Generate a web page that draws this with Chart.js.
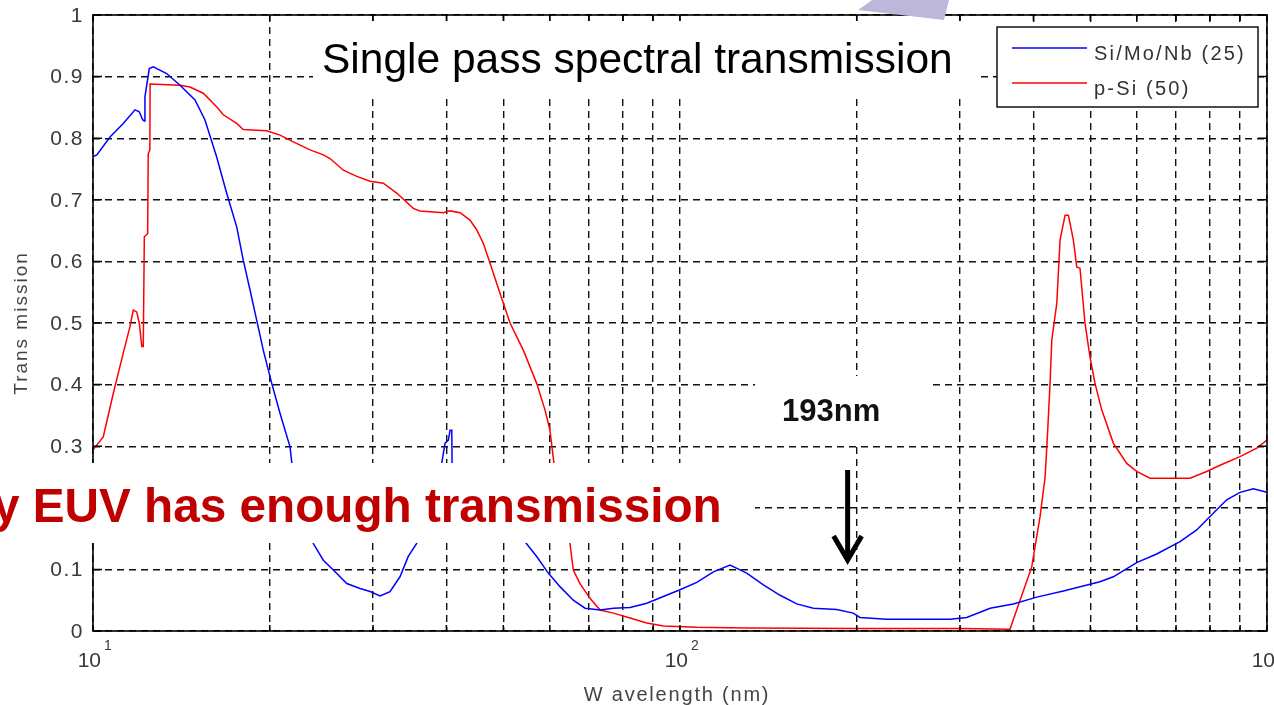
<!DOCTYPE html>
<html><head><meta charset="utf-8">
<script src="https://cdn.jsdelivr.net/npm/chart.js@4.4.0/dist/chart.umd.min.js"></script>
<style>html,body{margin:0;padding:0;background:#fff;}canvas{display:block;}</style>
</head><body>
<canvas id="c" width="1274" height="705"></canvas>
<script>
// ---- data ----
const seriesNames = ['Si/Mo/Nb (25)', 'p-Si (50)'];
const seriesColors = ['#0000ff', '#ff0000'];

const blueWavelength = [10.0,10.15,10.69,11.26,11.79,11.99,12.15,12.23,12.26,12.47,12.67,13.35,14.07,14.92,15.51,16.24,16.89,17.57,18.03,18.51,19.00,19.50,20.16,20.83,21.66,21.81,23.73,24.68,25.67,27.06,28.51,29.65,30.83,32.06,33.34,34.44,35.60,39.27,39.79,40.31,40.58,40.85,40.9,54.44,57.00,59.65,62.45,65.80,68.90,73.07,77.00,82.20,87.78,93.68,100.0,106.8,114.0,121.7,129.9,138.7,148.1,158.1,168.7,184.9,197.3,202.6,224.9,288.4,307.9,337.5,369.7,405.3,449.9,519.4,547.2,599.8,648.8,710.9,759.0,810.0,853.8,899.6,947.8,1000];
const blueTransmission = [0.770,0.773,0.802,0.824,0.846,0.843,0.830,0.828,0.867,0.913,0.916,0.905,0.886,0.862,0.830,0.770,0.711,0.656,0.602,0.554,0.505,0.456,0.402,0.353,0.299,0.273,0.142,0.115,0.099,0.077,0.069,0.064,0.057,0.064,0.088,0.121,0.142,0.272,0.305,0.310,0.326,0.326,0.272,0.145,0.121,0.094,0.072,0.050,0.037,0.034,0.037,0.038,0.045,0.056,0.067,0.079,0.096,0.107,0.094,0.075,0.058,0.044,0.037,0.035,0.029,0.022,0.019,0.019,0.022,0.037,0.044,0.055,0.065,0.080,0.088,0.111,0.125,0.145,0.164,0.191,0.213,0.225,0.231,0.225];

const redWavelength = [10.0,10.41,10.83,11.26,11.56,11.71,11.87,11.99,12.11,12.18,12.23,12.39,12.42,12.50,12.51,14.07,14.63,15.41,16.24,16.67,17.57,18.03,19.76,20.83,21.94,23.43,24.68,25.34,26.70,28.14,29.65,31.23,32.91,35.13,36.06,39.52,40.58,42.20,43.88,45.06,46.24,47.47,49.37,51.34,54.08,57.00,58.88,60.04,60.99,64.95,65.80,67.55,70.26,73.07,77.00,82.20,87.78,93.68,106.8,130,200,300,364.9,379.6,397.4,410.6,418.8,422.5,427.0,429.9,438.4,444.1,452.9,458.8,467.8,474.1,480.2,489.7,499.4,509.3,522.9,547.2,576.8,599.8,632.0,739.4,789.2,831.7,899.6,960.5,1000];
const redTransmission = [0.294,0.315,0.386,0.451,0.494,0.521,0.518,0.500,0.462,0.462,0.640,0.645,0.775,0.781,0.888,0.886,0.883,0.873,0.851,0.838,0.824,0.814,0.812,0.805,0.794,0.781,0.773,0.767,0.748,0.738,0.730,0.727,0.711,0.686,0.682,0.679,0.682,0.679,0.667,0.651,0.629,0.597,0.548,0.500,0.456,0.402,0.359,0.326,0.272,0.142,0.099,0.077,0.053,0.034,0.029,0.021,0.013,0.008,0.006,0.005,0.004,0.004,0.003,0.050,0.104,0.186,0.250,0.315,0.402,0.472,0.532,0.635,0.675,0.675,0.635,0.591,0.589,0.500,0.445,0.402,0.359,0.305,0.272,0.259,0.248,0.248,0.259,0.269,0.283,0.297,0.310];

const xTickValues = [10,20,30,40,50,60,70,80,90,100,200,300,400,500,600,700,800,900,1000];
const xLabelValues = [10,100,1000];
const xLabelExponents = ['1','2','3'];
const yTickValues = [0,0.1,0.2,0.3,0.4,0.5,0.6,0.7,0.8,0.9,1];
const yTickLabels = ['0','0.1','0.2','0.3','0.4','0.5','0.6','0.7','0.8','0.9','1'];
const xAxisTitle = 'W avelength (nm)';
const yAxisTitle = 'Trans mission';
const titleText = 'Single pass spectral transmission';
const redNote = 'y EUV has enough transmission';
const markerText = '193nm';
const markerWavelength = 193;

const toPoints = (xs, ys) => xs.map((x, i) => ({x: x, y: ys[i]}));

const FONT = '"Liberation Sans", Arial, sans-serif';

const overlay = {
  id: 'overlay',
  afterDraw(chart) {
    const ctx = chart.ctx, a = chart.chartArea, xs = chart.scales.x, ys = chart.scales.y;
    ctx.save();
    ctx.setLineDash([]);
    // axes box
    ctx.strokeStyle = '#000'; ctx.lineWidth = 1.6;
    ctx.strokeRect(a.left, a.top, a.right - a.left, a.bottom - a.top);
    // inner tick marks
    ctx.lineWidth = 1.5;
    ctx.beginPath();
    yTickValues.forEach(v => {
      const y = ys.getPixelForValue(v);
      ctx.moveTo(a.left, y); ctx.lineTo(a.left + 9, y);
      ctx.moveTo(a.right, y); ctx.lineTo(a.right - 9, y);
    });
    xTickValues.forEach(v => {
      const x = xs.getPixelForValue(v);
      ctx.moveTo(x, a.bottom); ctx.lineTo(x, a.bottom - 6);
      ctx.moveTo(x, a.top); ctx.lineTo(x, a.top + 6);
    });
    ctx.stroke();

    // y tick labels
    ctx.fillStyle = '#3a3a3a';
    ctx.font = '21px ' + FONT;
    ctx.textAlign = 'right'; ctx.textBaseline = 'middle';
    ctx.letterSpacing = '1.5px';
    yTickValues.forEach((v, i) => {
      ctx.fillText(yTickLabels[i], a.left - 9, ys.getPixelForValue(v) + 1);
    });
    ctx.letterSpacing = '0px';
    // x tick labels (10^n)
    ctx.textBaseline = 'alphabetic';
    xLabelValues.forEach((v, i) => {
      const x = xs.getPixelForValue(v);
      ctx.font = '21px ' + FONT; ctx.textAlign = 'right';
      ctx.fillText('10', x + 8, a.bottom + 36);
      ctx.font = '14px ' + FONT; ctx.textAlign = 'left';
      ctx.fillText(xLabelExponents[i], x + 11, a.bottom + 19);
    });
    // axis titles
    ctx.font = '20px ' + FONT; ctx.textAlign = 'center';
    ctx.letterSpacing = '1.8px';
    ctx.fillStyle = '#444';
    ctx.fillText(xAxisTitle, (a.left + a.right) / 2 - 3, 701);
    ctx.save();
    ctx.translate(27, (a.top + a.bottom) / 2);
    ctx.rotate(-Math.PI / 2);
    ctx.font = '19px ' + FONT; ctx.letterSpacing = '2px';
    ctx.fillText(yAxisTitle, 0, 0);
    ctx.restore();
    ctx.letterSpacing = '0px';

    // legend
    ctx.fillStyle = '#fff';
    ctx.fillRect(997, 27, 261, 80);
    ctx.strokeStyle = '#000'; ctx.lineWidth = 1.4;
    ctx.strokeRect(997, 27, 261, 80);
    chart.data.datasets.forEach((ds, i) => {
      const y = 48 + i * 35;
      ctx.strokeStyle = ds.borderColor; ctx.lineWidth = 1.5;
      ctx.beginPath(); ctx.moveTo(1012, y); ctx.lineTo(1087, y); ctx.stroke();
      ctx.fillStyle = '#333'; ctx.font = '20px ' + FONT; ctx.textAlign = 'left';
      ctx.letterSpacing = '2.2px';
      ctx.fillText(ds.label, 1094, y + 12);
      ctx.letterSpacing = '0px';
    });

    // title box
    ctx.fillStyle = '#fff';
    ctx.fillRect(313, 21, 664, 76);
    ctx.fillStyle = '#000'; ctx.font = '42.5px ' + FONT; ctx.textAlign = 'left';
    ctx.fillText(titleText, 322, 73);

    // red note box
    ctx.fillStyle = '#fff';
    ctx.fillRect(0, 463, 755, 80);
    ctx.fillStyle = '#c00000'; ctx.font = 'bold 47.7px ' + FONT;
    ctx.fillText(redNote, -7, 522);

    // 193nm box
    ctx.fillStyle = '#fff';
    ctx.fillRect(755, 376, 178, 66);
    ctx.fillStyle = '#111'; ctx.font = 'bold 31px ' + FONT;
    ctx.fillText(markerText, 782, 421);

    // arrow
    const ax = xs.getPixelForValue(markerWavelength);
    ctx.strokeStyle = '#000'; ctx.lineWidth = 5; ctx.lineJoin = 'miter'; ctx.lineCap = 'butt';
    ctx.beginPath(); ctx.moveTo(ax, 470); ctx.lineTo(ax, 556); ctx.stroke();
    ctx.beginPath(); ctx.moveTo(ax - 14, 536); ctx.lineTo(ax, 560); ctx.lineTo(ax + 14, 536); ctx.stroke();

    // lavender slide shape at top
    ctx.fillStyle = '#bdb7da';
    ctx.beginPath();
    ctx.moveTo(872, 0); ctx.lineTo(949, 0); ctx.lineTo(944, 20); ctx.lineTo(858, 10); ctx.closePath();
    ctx.fill();
    ctx.restore();
  }
};

new Chart(document.getElementById('c'), {
  type: 'line',
  data: {
    datasets: [
      {label: seriesNames[0], data: toPoints(blueWavelength, blueTransmission), borderColor: seriesColors[0], borderWidth: 1.5, pointRadius: 0, tension: 0, fill: false},
      {label: seriesNames[1], data: toPoints(redWavelength, redTransmission), borderColor: seriesColors[1], borderWidth: 1.5, pointRadius: 0, tension: 0, fill: false}
    ]
  },
  options: {
    responsive: false,
    animation: false,
    events: [],
    layout: {padding: {top: 15, right: 7, left: 0, bottom: 0}},
    plugins: {legend: {display: false}, tooltip: {enabled: false}, title: {display: false}},
    scales: {
      x: {
        type: 'logarithmic', min: 10, max: 1000,
        afterBuildTicks: s => { s.ticks = xTickValues.map(v => ({value: v})); },
        afterFit: s => { s.height = 74; },
        ticks: {display: false},
        grid: {color: '#111', lineWidth: 1.4, drawTicks: false},
        border: {display: false, dash: [7, 5]}
      },
      y: {
        type: 'linear', min: 0, max: 1,
        afterBuildTicks: s => { s.ticks = yTickValues.map(v => ({value: v})); },
        afterFit: s => { s.width = 93; },
        ticks: {display: false},
        grid: {color: '#111', lineWidth: 1.4, drawTicks: false},
        border: {display: false, dash: [7, 5]}
      }
    }
  },
  plugins: [overlay]
});
</script>
</body></html>
